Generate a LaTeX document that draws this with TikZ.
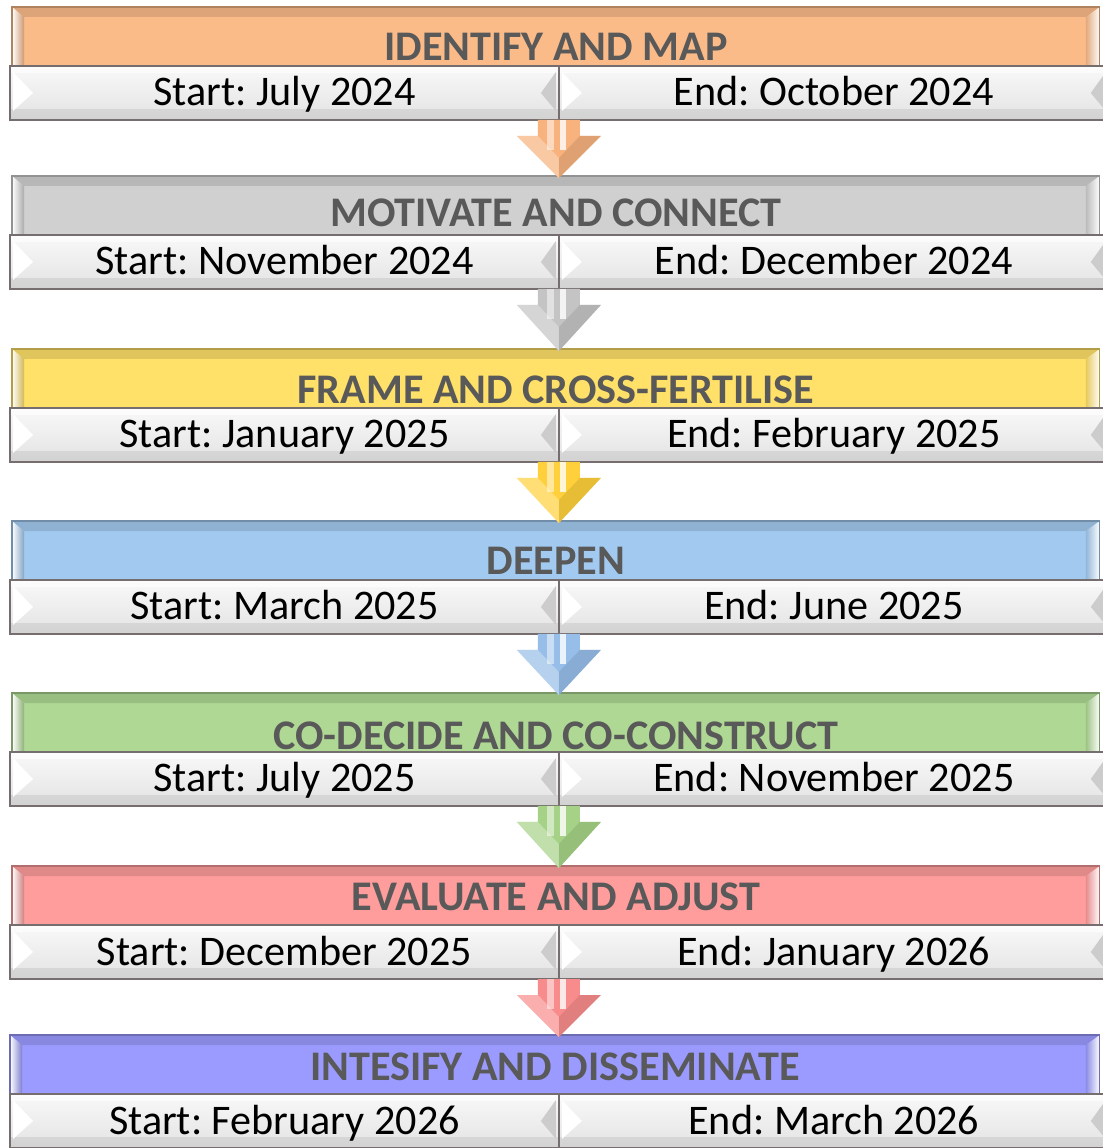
\documentclass[tikz,border=0pt]{standalone}
\usepackage{fontspec}
\setmainfont{Carlito}
\frenchspacing
\usetikzlibrary{positioning, calc}
\definecolor{headtext}{RGB}{89,89,89}
\definecolor{datedraw}{RGB}{118,110,110}
\definecolor{horange}{RGB}{251,187,137}
\definecolor{hgrey}{RGB}{208,208,208}
\definecolor{hyellow}{RGB}{255,224,104}
\definecolor{hblue}{RGB}{162,202,240}
\definecolor{hgreen}{RGB}{174,216,148}
\definecolor{hred}{RGB}{255,156,156}
\definecolor{hpurple}{RGB}{155,155,255}
\definecolor{aorange}{RGB}{247,178,126}
\definecolor{agrey}{RGB}{196,196,196}
\definecolor{ayellow}{RGB}{255,208,60}
\definecolor{ablue}{RGB}{150,190,232}
\definecolor{agreen}{RGB}{165,210,135}
\definecolor{ared}{RGB}{248,140,140}

% block arrow from a date box down to the next header
\newcommand{\phasearrow}[3]{%
  \fill[#3] ($(#1.south east)+(-21,0)$) -- ++(42,0) -- ++(0,16) -- ++(21,0)
    -- ($(#1.south east |- #2.north)+(0,2)$) -- ($(#1.south east)+(-42,16)$) -- ++(21,0) -- cycle;
  \fill[#3!80!black, opacity=.45] ($(#1.south east |- #2.north)+(0,2)$) -- ($(#1.south east)+(42,16)$)
    -- ($(#1.south east)+(21,16)$) -- ($(#1.south east)+(0,38)$) -- cycle;
  \fill[white, opacity=.3] ($(#1.south east |- #2.north)+(0,2)$) -- ($(#1.south east)+(-42,16)$)
    -- ($(#1.south east)+(-21,16)$) -- ($(#1.south east)+(0,38)$) -- cycle;
  \fill[white, opacity=.5] ($(#1.south east)+(-12,0)$) rectangle ($(#1.south east)+(-5,30)$);
  \fill[white, opacity=.8] ($(#1.south east)+(1,0)$) rectangle ($(#1.south east)+(7,30)$);
}

\begin{document}
\begin{tikzpicture}[x=0.02cm, y=-0.02cm,
		header/.style = {rectangle, draw=#1!70!black, line width=0.6pt, fill=#1, anchor=north west, outer sep=0pt,
			minimum width=21.76cm, minimum height=1.18cm, inner ysep=0pt, text height=1.08cm, text depth=0.1cm,
			font=\fontsize{24}{28}\selectfont\bfseries, text=headtext,
			path picture={
				\coordinate (nw) at (path picture bounding box.north west);
				\coordinate (ne) at (path picture bounding box.north east);
				\coordinate (sw) at (path picture bounding box.south west);
				\coordinate (se) at (path picture bounding box.south east);
				\fill[#1!88!black] (nw) -- (ne) -- ($(ne)+(-14,10)$) -- ($(nw)+(12,10)$) -- cycle;
				\shade[left color=white, right color=#1!82!black] (nw) -- ($(nw)+(12,10)$) -- ($(sw)+(12,0)$) -- (sw) -- cycle;
				\shade[left color=#1!90!black, right color=white] (ne) -- ($(ne)+(-14,10)$) -- ($(se)+(-14,0)$) -- (se) -- cycle;
			}},
		datebox/.style = {rectangle, draw=datedraw, line width=1pt, top color=gray!5, bottom color=gray!22,
			anchor=north west, outer sep=0pt, minimum width=10.98cm, minimum height=1.08cm, inner ysep=0pt,
			text height=0.8cm, text depth=0.28cm, font=\fontsize{24}{28}\selectfont,
			path picture={
				\coordinate (nw) at (path picture bounding box.north west);
				\coordinate (ne) at (path picture bounding box.north east);
				\coordinate (sw) at (path picture bounding box.south west);
				\coordinate (se) at (path picture bounding box.south east);
				\fill[white, opacity=.6] (nw) rectangle ($(ne)+(0,7)$);
				\fill[black, opacity=.07] ($(sw)+(0,-11)$) rectangle (se);
				\fill[white] ($(nw)+(3,6)$) -- ($(sw)+(3,-9)$) -- ($(nw)!0.5!(sw)+(23,0)$) -- cycle;
				\fill[gray!40] ($(ne)+(-3,6)$) -- ($(se)+(-3,-9)$) -- ($(ne)!0.5!(se)+(-18,0)$) -- cycle;
			}}
		]
		\useasboundingbox (0,0) rectangle (1102,1148);

		\node (hd1) [header=horange] at (12,7) {IDENTIFY AND MAP};
		\node (ds1) [datebox] at (10,66) {Start: July 2024};
		\node (de1) [datebox, right=0pt of ds1, minimum width=11cm] {End: October 2024};

		\node (hd2) [header=hgrey, text height=1.02cm, text depth=0.16cm] at (12,176) {MOTIVATE AND CONNECT};
		\node (ds2) [datebox] at (10,235) {Start: November 2024};
		\node (de2) [datebox, right=0pt of ds2, minimum width=11cm] {End: December 2024};

		\node (hd3) [header=hyellow, text height=1.1cm, text depth=0.08cm] at (12,349) {FRAME AND CROSS-FERTILISE};
		\node (ds3) [datebox] at (10,408) {Start: January 2025};
		\node (de3) [datebox, right=0pt of ds3, minimum width=11cm] {End: February 2025};

		\node (hd4) [header=hblue] at (12,521) {DEEPEN};
		\node (ds4) [datebox] at (10,580) {Start: March 2025};
		\node (de4) [datebox, right=0pt of ds4, minimum width=11cm] {End: June 2025};

		\node (hd5) [header=hgreen, text height=1.14cm, text depth=0.04cm] at (12,693) {CO-DECIDE AND CO-CONSTRUCT};
		\node (ds5) [datebox] at (10,752) {Start: July 2025};
		\node (de5) [datebox, right=0pt of ds5, minimum width=11cm] {End: November 2025};

		\node (hd6) [header=hred, text height=0.88cm, text depth=0.3cm] at (12,866) {EVALUATE AND ADJUST};
		\node (ds6) [datebox] at (10,925) {Start: December 2025};
		\node (de6) [datebox, right=0pt of ds6, minimum width=11cm] {End: January 2026};

		\node (hd7) [header=hpurple, minimum width=21.8cm, text height=0.9cm, text depth=0.28cm] at (10,1035) {INTESIFY AND DISSEMINATE};
		\node (ds7) [datebox] at (10,1094) {Start: February 2026};
		\node (de7) [datebox, right=0pt of ds7, minimum width=11cm] {End: March 2026};

		\phasearrow{ds1}{hd2}{aorange}
		\phasearrow{ds2}{hd3}{agrey}
		\phasearrow{ds3}{hd4}{ayellow}
		\phasearrow{ds4}{hd5}{ablue}
		\phasearrow{ds5}{hd6}{agreen}
		\phasearrow{ds6}{hd7}{ared}
	\end{tikzpicture}
\end{document}
